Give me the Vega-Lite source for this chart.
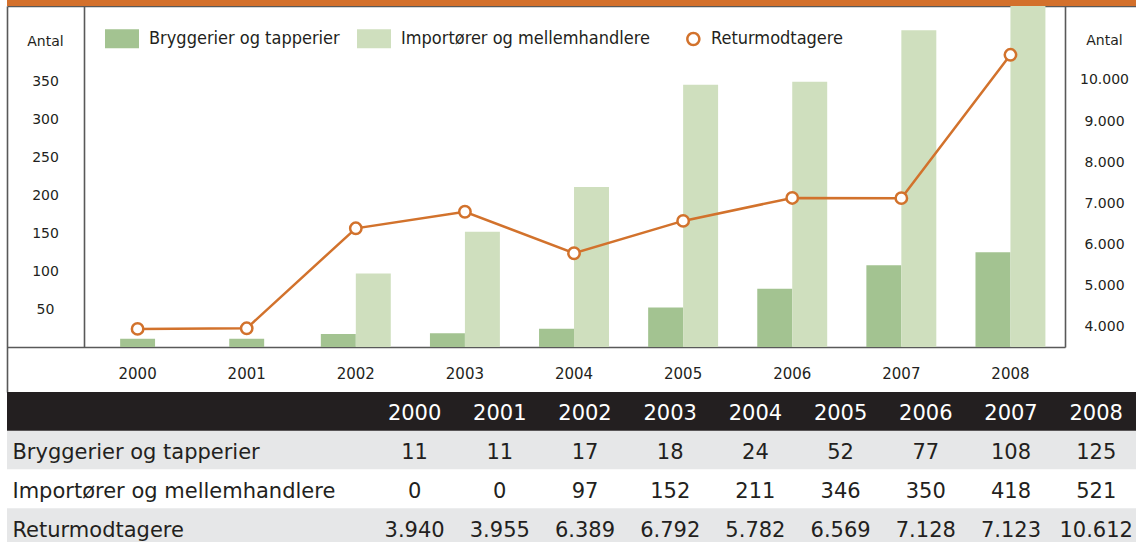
{
  "$schema": "https://vega.github.io/schema/vega-lite/v6.json",
  "padding": {"left": 7, "top": 0, "right": 0, "bottom": 0},
  "autosize": {"type": "pad"},
  "bounds": "flush",
  "spacing": 0,
  "config": {
    "font": "DejaVu Sans",
    "locale": {"number": {"decimal": ",", "thousands": ".", "grouping": [3], "currency": ["", " kr."]}},
    "view": {"stroke": null},
    "axis": {"domainColor": "#595959", "domainWidth": 1.6, "ticks": false, "grid": false, "labelColor": "#231f20", "labelFont": "DejaVu Sans", "titleFont": "DejaVu Sans", "titleColor": "#231f20", "titleFontWeight": "normal"},
    "text": {"font": "DejaVu Sans"}
  },
  "datasets": {
    "d": [
      {"year": 2000, "series": "Bryggerier og tapperier", "value": 11},
      {"year": 2001, "series": "Bryggerier og tapperier", "value": 11},
      {"year": 2002, "series": "Bryggerier og tapperier", "value": 17},
      {"year": 2003, "series": "Bryggerier og tapperier", "value": 18},
      {"year": 2004, "series": "Bryggerier og tapperier", "value": 24},
      {"year": 2005, "series": "Bryggerier og tapperier", "value": 52},
      {"year": 2006, "series": "Bryggerier og tapperier", "value": 77},
      {"year": 2007, "series": "Bryggerier og tapperier", "value": 108},
      {"year": 2008, "series": "Bryggerier og tapperier", "value": 125},
      {"year": 2000, "series": "Importører og mellemhandlere", "value": 0},
      {"year": 2001, "series": "Importører og mellemhandlere", "value": 0},
      {"year": 2002, "series": "Importører og mellemhandlere", "value": 97},
      {"year": 2003, "series": "Importører og mellemhandlere", "value": 152},
      {"year": 2004, "series": "Importører og mellemhandlere", "value": 211},
      {"year": 2005, "series": "Importører og mellemhandlere", "value": 346},
      {"year": 2006, "series": "Importører og mellemhandlere", "value": 350},
      {"year": 2007, "series": "Importører og mellemhandlere", "value": 418},
      {"year": 2008, "series": "Importører og mellemhandlere", "value": 521},
      {"year": 2000, "series": "Returmodtagere", "value": 3940},
      {"year": 2001, "series": "Returmodtagere", "value": 3955},
      {"year": 2002, "series": "Returmodtagere", "value": 6389},
      {"year": 2003, "series": "Returmodtagere", "value": 6792},
      {"year": 2004, "series": "Returmodtagere", "value": 5782},
      {"year": 2005, "series": "Returmodtagere", "value": 6569},
      {"year": 2006, "series": "Returmodtagere", "value": 7128},
      {"year": 2007, "series": "Returmodtagere", "value": 7123},
      {"year": 2008, "series": "Returmodtagere", "value": 10612}
    ]
  },
  "vconcat": [
    {
      "width": 1129,
      "height": 6,
      "data": {"values": [{}]},
      "view": {"stroke": null, "fill": "#d3702b"},
      "mark": {"type": "rect", "color": "#d3702b"},
      "encoding": {
        "x": {"datum": 0, "type": "quantitative", "scale": {"domain": [0, 1], "nice": false, "zero": false}, "axis": {"orient": "bottom", "labels": false, "ticks": false, "title": null, "grid": false, "domain": true}},
        "x2": {"datum": 1}
      }
    },
    {
      "width": 1058,
      "height": 386,
      "data": {"name": "d"},
      "view": {"stroke": null},
      "layer": [
        {
          "layer": [
            {
              "transform": [
                {"filter": "datum.series !== 'Returmodtagere' && datum.value > 0"},
                {"joinaggregate": [{"op": "count", "as": "n"}], "groupby": ["year"]},
                {"filter": "datum.n === 2"}
              ],
              "mark": {"type": "bar", "clip": true},
              "encoding": {
                "x": {"field": "year", "type": "nominal", "scale": {"paddingInner": 0, "paddingOuter": 0.3485, "align": 1}, "axis": {"title": null, "labelAngle": 0, "offset": -45, "labelPadding": 26, "labelBaseline": "middle", "labelFontSize": 15, "domain": true}},
                "xOffset": {"field": "series", "type": "nominal", "scale": {"domain": ["Bryggerier og tapperier", "Importører og mellemhandlere"], "paddingInner": 0, "paddingOuter": 0.56}},
                "y": {"field": "value", "type": "quantitative", "scale": {"domain": [0, 450], "range": [341, 0], "nice": false}, "axis": {"orient": "left", "offset": -77, "values": [50, 100, 150, 200, 250, 300, 350], "labelAlign": "center", "labelPadding": 39, "labelBaseline": "middle", "labelFontSize": 14, "title": "Antal", "titleAngle": 0, "titleX": -39, "titleY": 35, "titleAlign": "center", "titleBaseline": "middle", "titleFontSize": 14, "domain": true}},
                "color": {
                  "field": "series", "type": "nominal",
                  "scale": {"domain": ["Bryggerier og tapperier", "Importører og mellemhandlere", "Returmodtagere"], "range": ["#a3c391", "#cfdfbe", "#d2722c"]},
                  "legend": {
                    "orient": "none", "legendX": 98, "legendY": 21.5, "direction": "horizontal", "title": null, "padding": 0,
                    "labelFont": "DejaVu Sans Condensed, Liberation Sans Narrow, DejaVu Sans", "labelFontSize": 18, "labelColor": "#231f20", "labelOffset": 10, "labelLimit": 400,
                    "columnPadding": 17, "symbolSize": 1156, "symbolType": "M-1,-0.56H1V0.56H-1Z", "symbolStrokeWidth": 0,
                    "encode": {
                      "symbols": {
                        "update": {
                          "shape": {"signal": "datum.label === 'Returmodtagere' ? 'M0.9765,0A0.4265,0.4265,0,1,1,0.1235,0A0.4265,0.4265,0,1,1,0.9765,0ZM0.8294,0A0.2794,0.2794,0,1,0,0.2706,0A0.2794,0.2794,0,1,0,0.8294,0Z' : 'M-1,-0.56H1V0.56H-1Z'"}
                        }
                      }
                    }
                  }
                }
              }
            },
            {
              "transform": [
                {"filter": "datum.series !== 'Returmodtagere' && datum.value > 0"},
                {"joinaggregate": [{"op": "count", "as": "n"}], "groupby": ["year"]},
                {"filter": "datum.n === 1"}
              ],
              "mark": {"type": "bar", "clip": true, "width": {"band": 0.32}},
              "encoding": {
                "x": {"field": "year", "type": "nominal"},
                "y": {"field": "value", "type": "quantitative"},
                "color": {"field": "series", "type": "nominal"}
              }
            }
          ]
        },
        {
          "transform": [{"filter": "datum.series === 'Returmodtagere'"}],
          "mark": {"type": "line", "strokeWidth": 2.5, "point": {"filled": false, "fill": "#ffffff", "size": 130, "strokeWidth": 2.5, "opacity": 1}},
          "encoding": {
            "x": {"field": "year", "type": "nominal"},
            "y": {"field": "value", "type": "quantitative", "scale": {"domain": [3500, 11800], "range": [341, 0], "nice": false, "zero": false}, "axis": {"orient": "right", "values": [4000, 5000, 6000, 7000, 8000, 9000, 10000], "format": ",d", "labelAlign": "center", "labelPadding": 39, "labelBaseline": "middle", "labelFontSize": 14, "title": "Antal", "titleAngle": 0, "titleX": 39, "titleY": 34, "titleAlign": "center", "titleBaseline": "middle", "titleFontSize": 14, "domain": true}},
            "color": {"datum": "Returmodtagere", "type": "nominal"}
          }
        },
        {
          "mark": {"type": "point", "opacity": 0},
          "encoding": {
            "y": {"datum": 0.5, "type": "quantitative", "scale": {"domain": [0, 1]}, "axis": {"orient": "left", "labels": false, "title": null, "offset": 0, "domain": true}}
          }
        }
      ],
      "resolve": {"scale": {"y": "independent"}}
    },
    {
      "width": 1129,
      "height": 155,
      "view": {"stroke": null},
      "data": {"name": "d"},
      "layer": [
        {
          "transform": [{"aggregate": [{"op": "count", "as": "n"}], "groupby": ["series"]}],
          "mark": {"type": "rect"},
          "encoding": {
            "y": {"field": "series", "type": "nominal", "scale": {"domain": ["hdr", "Bryggerier og tapperier", "Importører og mellemhandlere", "Returmodtagere"], "paddingInner": 0, "paddingOuter": 0}, "axis": null},
            "fill": {"field": "series", "type": "nominal", "scale": {"domain": ["Bryggerier og tapperier", "Importører og mellemhandlere", "Returmodtagere"], "range": ["#e6e7e8", "#ffffff", "#e6e7e8"]}, "legend": null}
          }
        },
        {
          "transform": [{"aggregate": [{"op": "count", "as": "n"}]}],
          "mark": {"type": "rect", "color": "#231f20"},
          "encoding": {
            "y": {"datum": "hdr", "type": "nominal"}
          }
        },
        {
          "transform": [{"filter": "datum.series === 'Bryggerier og tapperier'"}],
          "mark": {"type": "text", "color": "#ffffff", "fontSize": 21, "baseline": "middle", "align": "center", "dy": 3},
          "encoding": {
            "x": {"field": "year", "type": "quantitative", "scale": {"domain": [1995.216, 2008.467], "nice": false, "zero": false}, "axis": null},
            "y": {"datum": "hdr", "type": "nominal"},
            "text": {"field": "year", "type": "nominal"}
          }
        },
        {
          "mark": {"type": "text", "color": "#231f20", "fontSize": 21, "baseline": "middle", "align": "center", "dy": 3},
          "encoding": {
            "x": {"field": "year", "type": "quantitative"},
            "y": {"field": "series", "type": "nominal"},
            "text": {"field": "value", "type": "quantitative", "format": ",d"}
          }
        },
        {
          "transform": [{"aggregate": [{"op": "count", "as": "n"}], "groupby": ["series"]}],
          "mark": {"type": "text", "color": "#231f20", "fontSize": 21, "baseline": "middle", "align": "left", "dy": 3},
          "encoding": {
            "x": {"datum": 1995.28, "type": "quantitative"},
            "y": {"field": "series", "type": "nominal"},
            "text": {"field": "series", "type": "nominal"}
          }
        }
      ]
    }
  ]
}
